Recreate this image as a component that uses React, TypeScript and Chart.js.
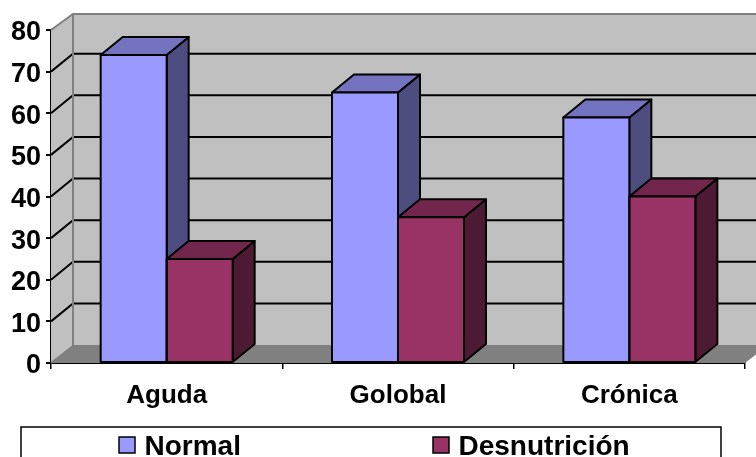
import React, { useEffect, useRef } from "react";
import { Chart, registerables } from "chart.js";

Chart.register(...registerables);

const categories = ["Aguda", "Golobal", "Crónica"];
const normalValues = [74, 65, 59];
const desnutricionValues = [25, 35, 40];
const seriesNames = ["Normal", "Desnutrición"];
const seriesColors = ["#9999FF", "#993366"];
const seriesTopColors = ["#7373BF", "#73264D"];
const seriesSideColors = ["#4D4D80", "#4D1A33"];

const DX = 22;
const DY = 18;
const TOP_DY = 16;
const FLOOR_DY = 17;
const FONT = '"Liberation Sans", Arial, sans-serif';

const polygon = (ctx: CanvasRenderingContext2D, pts: number[][], fill: string | null, stroke: string | null, lw = 2) => {
  ctx.beginPath();
  pts.forEach(([x, y], i) => (i ? ctx.lineTo(x, y) : ctx.moveTo(x, y)));
  ctx.closePath();
  if (fill) {
    ctx.fillStyle = fill;
    ctx.fill();
  }
  if (stroke) {
    ctx.strokeStyle = stroke;
    ctx.lineWidth = lw;
    ctx.lineJoin = "round";
    ctx.stroke();
  }
};

const line = (ctx: CanvasRenderingContext2D, pts: number[][], color: string, lw = 2) => {
  ctx.beginPath();
  pts.forEach(([x, y], i) => (i ? ctx.lineTo(x, y) : ctx.moveTo(x, y)));
  ctx.strokeStyle = color;
  ctx.lineWidth = lw;
  ctx.stroke();
};

const walls3d = {
  id: "walls3d",
  beforeDatasetsDraw(chart: any) {
    const { ctx, chartArea: a, scales } = chart;
    const y = scales.y;
    const y0 = y.getPixelForValue(0);
    const yMax = y.getPixelForValue(80);
    const backTop = yMax - TOP_DY;
    const backBottom = y0 - FLOOR_DY;
    ctx.save();
    polygon(ctx, [[a.left + DX, backTop], [a.right + DX, backTop], [a.right + DX, backBottom], [a.left + DX, backBottom]], "#C0C0C0", null);
    polygon(ctx, [[a.left, yMax], [a.left + DX, backTop], [a.left + DX, backBottom], [a.left, y0]], "#C0C0C0", null);
    polygon(ctx, [[a.left, y0], [a.left + DX, backBottom], [a.right + DX, backBottom], [a.right, y0]], "#808080", null);
    y.ticks.forEach((t: any) => {
      if (t.value === 0 || t.value === 80) return;
      const p = y.getPixelForValue(t.value);
      line(ctx, [[a.left, p], [a.left + DX, p - DY], [a.right + DX, p - DY]], "#000000", 2);
    });
    line(ctx, [[a.left, yMax], [a.left + DX, backTop], [a.right + DX, backTop]], "#808080", 2);
    line(ctx, [[a.left + DX, backTop], [a.left + DX, backBottom], [a.right + DX, backBottom]], "#808080", 2);
    line(ctx, [[a.left, y0], [a.left + DX, backBottom]], "#808080", 2);
    chart.data.datasets.forEach((_: any, di: number) => {
      chart.getDatasetMeta(di).data.forEach((bar: any) => {
        const { x, y: top, base, width } = bar.getProps(["x", "y", "base", "width"]);
        const l = x - width / 2;
        const r = x + width / 2;
        polygon(ctx, [[r, top], [r + DX, top - DY], [r + DX, base - DY], [r, base]], seriesSideColors[di], "#000000");
        polygon(ctx, [[l, top], [l + DX, top - DY], [r + DX, top - DY], [r, top]], seriesTopColors[di], "#000000");
      });
    });
    ctx.restore();
  },
  afterDatasetsDraw(chart: any) {
    const { ctx } = chart;
    ctx.save();
    chart.data.datasets.forEach((_: any, di: number) => {
      chart.getDatasetMeta(di).data.forEach((bar: any) => {
        const { x, y: top, base, width } = bar.getProps(["x", "y", "base", "width"]);
        const l = x - width / 2;
        const r = x + width / 2;
        polygon(ctx, [[l, top], [r, top], [r, base], [l, base]], null, "#000000");
      });
    });
    ctx.restore();
  },
};

const boxLegend = {
  id: "boxLegend",
  afterDraw(chart: any) {
    const { ctx } = chart;
    ctx.save();
    ctx.fillStyle = "#FFFFFF";
    ctx.strokeStyle = "#000000";
    ctx.lineWidth = 1.5;
    ctx.fillRect(21, 427, 700, 50);
    ctx.strokeRect(21, 427, 700, 50);
    ctx.font = `bold 28px ${FONT}`;
    ctx.textBaseline = "alphabetic";
    ctx.textAlign = "left";
    const swatchX = [119, 433];
    seriesNames.forEach((name, i) => {
      ctx.fillStyle = seriesColors[i];
      ctx.lineWidth = 1.5;
      ctx.fillRect(swatchX[i], 437, 16, 16);
      ctx.strokeRect(swatchX[i], 437, 16, 16);
      ctx.fillStyle = "#000000";
      ctx.fillText(name, swatchX[i] + 25.5, 455);
    });
    ctx.restore();
  },
};

export default function App() {
  const ref = useRef<HTMLCanvasElement>(null);
  useEffect(() => {
    const chart = new Chart(ref.current as HTMLCanvasElement, {
      type: "bar",
      data: {
        labels: categories,
        datasets: [
          { label: seriesNames[0], data: normalValues, backgroundColor: seriesColors[0], borderWidth: 0 },
          { label: seriesNames[1], data: desnutricionValues, backgroundColor: seriesColors[1], borderWidth: 0 },
        ],
      } as any,
      options: {
        animation: false,
        responsive: false,
        layout: { padding: { top: 30, right: 11, left: 0, bottom: 0 } },
        plugins: { legend: { display: false }, tooltip: { enabled: false }, title: { display: false } },
        datasets: { bar: { barThickness: 66, categoryPercentage: 1, barPercentage: 1 } },
        scales: {
          x: {
            grid: { drawOnChartArea: false, drawTicks: true, tickLength: 6, color: "#000000", lineWidth: 1.5, offset: true },
            border: { color: "#000000", width: 2 },
            ticks: { color: "#000000", font: { family: FONT, weight: "bold", size: 26 }, padding: 11, maxRotation: 0 },
            afterFit(scale: any) {
              scale.height = 94;
            },
          },
          y: {
            min: 0,
            max: 80,
            grid: { drawOnChartArea: false, drawTicks: true, tickLength: 5, color: "#000000", lineWidth: 2 },
            border: { color: "#000000", width: 2 },
            ticks: { stepSize: 10, color: "#000000", font: { family: FONT, weight: "bold", size: 27 }, padding: 5, labelOffset: 3 },
            afterFit(scale: any) {
              scale.width = 51;
            },
          },
        },
      } as any,
      plugins: [walls3d, boxLegend] as any,
    });
    return () => chart.destroy();
  }, []);
  return (
    <canvas
      ref={ref}
      width={756}
      height={457}
      style={{ position: "absolute", left: 0, top: 0, width: 756, height: 457, display: "block" }}
    />
  );
}
